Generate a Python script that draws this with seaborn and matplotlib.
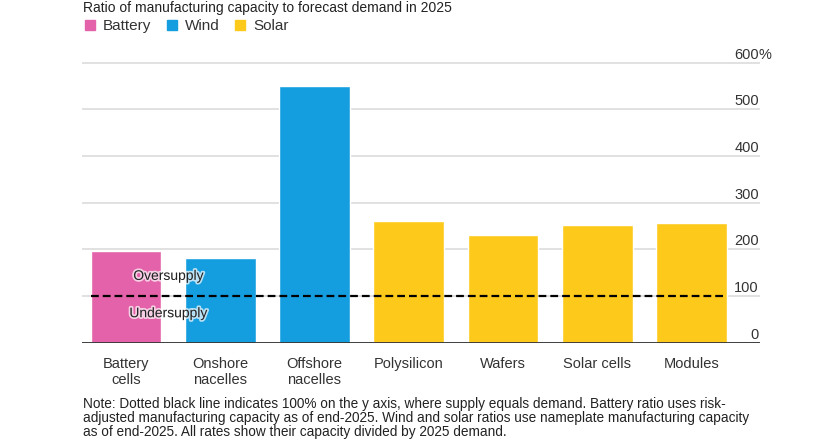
import matplotlib
matplotlib.use("Agg")
import numpy as np
import pandas as pd
import seaborn as sns
import matplotlib.pyplot as plt
import matplotlib.patheffects as pe
from matplotlib.lines import Line2D
from matplotlib.transforms import offset_copy

stages = ["Battery\ncells", "Onshore\nnacelles", "Offshore\nnacelles", "Polysilicon",
          "Wafers", "Solar cells", "Modules"]
groups = ["Battery", "Wind", "Wind", "Solar", "Solar", "Solar", "Solar"]
ratios = [197, 181, 550, 261, 230, 253, 257]
yticks = [0, 100, 200, 300, 400, 500, 600]
palette = {"Battery": "#E462A9", "Wind": "#149EE0", "Solar": "#FDCA1C"}

title = "Ratio of manufacturing capacity to forecast demand in 2025"
note_lines = [
    "Note: Dotted black line indicates 100% on the y axis, where supply equals demand. Battery ratio uses risk-",
    "adjusted manufacturing capacity as of end-2025. Wind and solar ratios use nameplate manufacturing capacity",
    "as of end-2025. All rates show their capacity divided by 2025 demand.",
]

df = pd.DataFrame({"stage": stages, "group": groups, "ratio": ratios})

sns.set_style("white")
plt.rcParams["font.family"] = ["Liberation Sans", "DejaVu Sans"]
text_col = "#333333"

fig = plt.figure(figsize=(8.4, 4.4), dpi=100)
W, H = 840, 440
px_per = 0.4665  # pixels per percentage point
y0 = 342.6
ax = fig.add_axes([82 / W, (H - y0) / H, (760 - 82) / W, 605 * px_per / H])

sns.barplot(data=df, x="stage", y="ratio", hue="group", palette=palette,
            dodge=False, width=0.75, saturation=1, legend=False, ax=ax, zorder=2)

ax.set_xlim(-0.467, 6.727)
ax.set_ylim(0, 605)
ax.set_xlabel("")
ax.set_ylabel("")
for s in ax.spines.values():
    s.set_visible(False)

# gridlines + baseline
ax.set_yticks(yticks)
ax.grid(axis="y", color="#dedede", lw=1.3)
ax.set_axisbelow(True)
ax.axhline(0, color=text_col, lw=1.3, zorder=3)
ax.tick_params(axis="y", length=0, labelleft=False)

ax.set_xticks(range(len(stages)))
ax.set_xticklabels(stages)
ax.tick_params(axis="x", length=4.3, width=1, color=text_col, pad=6,
               labelsize=10.5, labelcolor=text_col)

# y labels sitting above the gridlines, right aligned
tr = offset_copy(ax.get_yaxis_transform(), fig=fig, x=0, y=4, units="dots")
for v in yticks:
    ax.text(0.9985, v, str(v), transform=tr, ha="right", va="baseline",
            fontsize=10.5, color=text_col)
    if v == yticks[-1]:
        ax.text(0.9985, v, "%", transform=tr, ha="left", va="baseline",
                fontsize=10.5, color=text_col)

# 100% line
ax.hlines(100, -0.375, 6.375, color="black", lw=1.6, linestyle=(0, (3.5, 1.8)), zorder=4)
halo = [pe.withStroke(linewidth=2.5, foreground="white", alpha=0.7)]
ax.text(0.45, 143, "Oversupply", ha="center", va="center", fontsize=10,
        color="#222222", path_effects=halo, zorder=5)
ax.text(0.45, 63, "Undersupply", ha="center", va="center", fontsize=10,
        color="#222222", path_effects=halo, zorder=5)

# legend
handles = [Line2D([], [], marker="s", ls="", markersize=7.5, color=palette[g], label=g)
           for g in ["Battery", "Wind", "Solar"]]
fig.legend(handles=handles, loc="center left", bbox_to_anchor=(84.7 / W, 1 - 26 / H),
           ncol=3, frameon=False, fontsize=11, handlelength=0.7, handletextpad=0.5,
           columnspacing=1.0, borderpad=0, borderaxespad=0, labelcolor=text_col)

# title and note
fig.text(83 / W, 1 - 12 / H, title, ha="left", va="baseline", fontsize=10, color="#222222")
fig.text(83 / W, 1.5 / H, "\n".join(note_lines), ha="left", va="bottom",
         fontsize=9.8, linespacing=1.0, color="#222222")

fig.savefig("out.png", dpi=100)
